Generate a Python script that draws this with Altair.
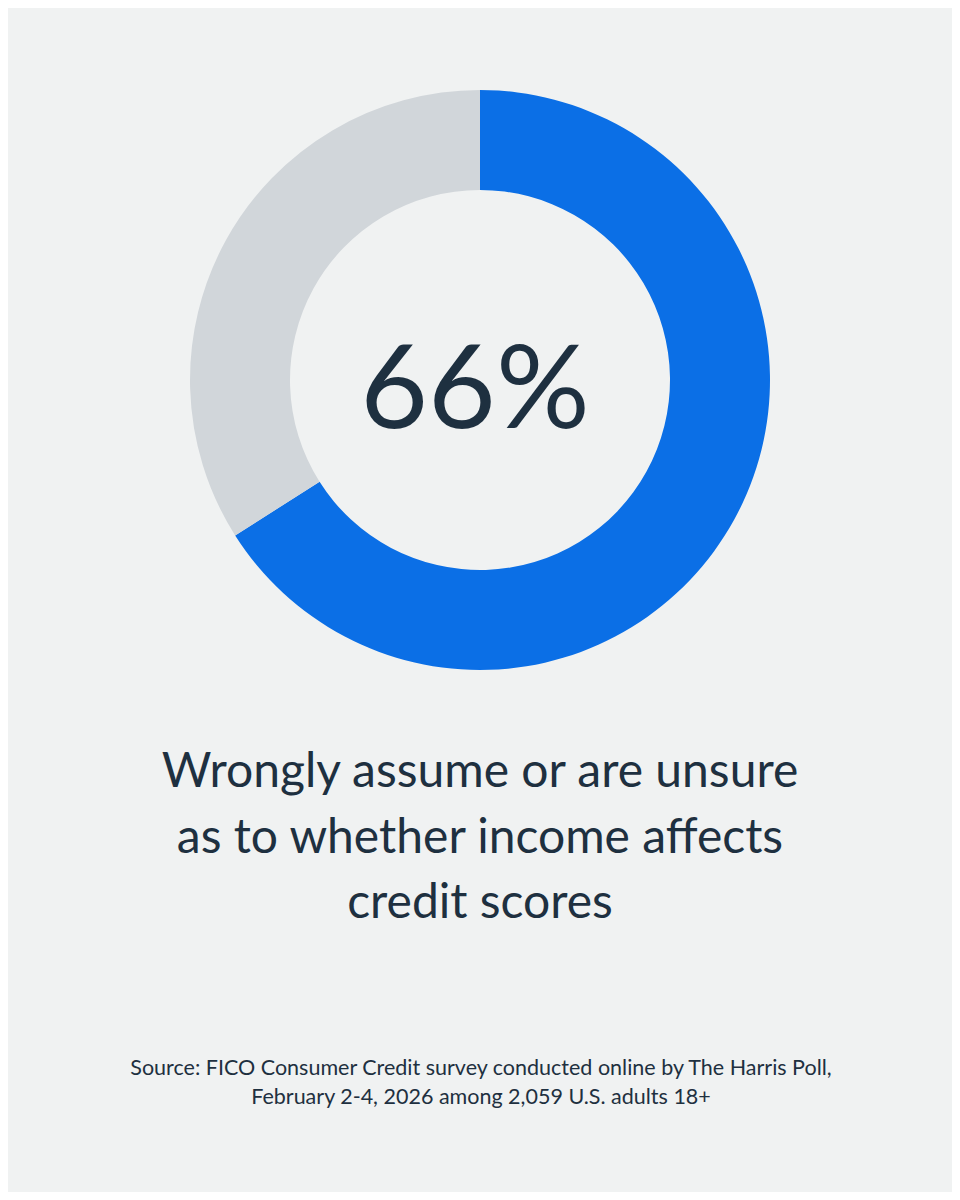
import altair as alt
import pandas as pd

segments = ["Wrongly assume or unsure", "Other"]
values = [66, 34]
seg_colors = ["#0b6fe6", "#d1d6da"]
rank = [1, 2]

headline = ["66%"]
caption = ["Wrongly assume or are unsure\nas to whether income affects\ncredit scores"]
source = ["Source: FICO Consumer Credit survey conducted online by The Harris Poll,\nFebruary 2-4, 2026 among 2,059 U.S. adults 18+"]

BG = "#f0f2f2"
TXT = "#1e3040"
FONT = "Lato"

donut_df = pd.DataFrame({"segment": segments, "value": values, "rank": rank})

donut = alt.Chart(donut_df).mark_arc(outerRadius=290, innerRadius=190).encode(
    theta=alt.Theta("value:Q", stack=True),
    color=alt.Color("segment:N", scale=alt.Scale(domain=segments, range=seg_colors), legend=None),
    order=alt.Order("rank:Q"),
    x=alt.value(472),
    y=alt.value(372),
)

big = alt.Chart(pd.DataFrame({"t": headline})).mark_text(
    font=FONT, fontSize=117, fontWeight=400, color=TXT, align="center", baseline="alphabetic"
).encode(text="t:N", x=alt.value(467), y=alt.value(420))

cap = alt.Chart(pd.DataFrame({"t": caption})).mark_text(
    font=FONT, fontSize=48, fontWeight=400, color=TXT, align="center", baseline="alphabetic",
    lineBreak="\n", lineHeight=65.5
).encode(text="t:N", x=alt.value(472), y=alt.value(779))

src = alt.Chart(pd.DataFrame({"t": source})).mark_text(
    font=FONT, fontSize=21.5, fontWeight=400, color=TXT, align="center", baseline="alphabetic",
    lineBreak="\n", lineHeight=29
).encode(text="t:N", x=alt.value(473), y=alt.value(1067))

chart = alt.layer(donut, big, cap, src).properties(
    width=944, height=1184, background=BG, padding=0,
    autosize=alt.AutoSizeParams(type="fit", contains="padding"),
).configure_view(stroke=None)

chart.save("out.html", embed_options={"renderer": "svg", "actions": False})
